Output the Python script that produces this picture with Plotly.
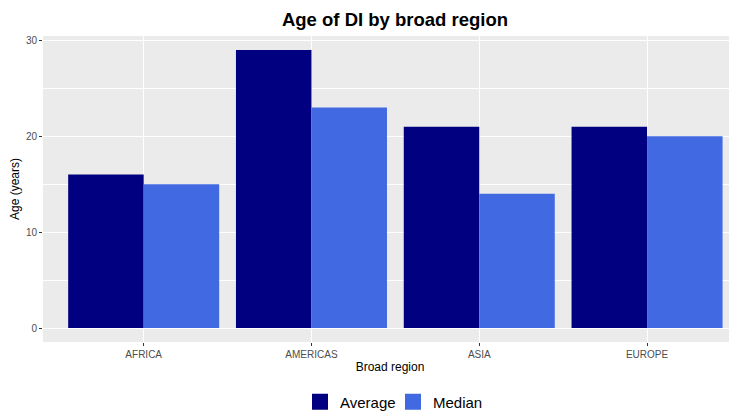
import plotly.graph_objects as go

regions = ["AFRICA", "AMERICAS", "ASIA", "EUROPE"]
average = [16, 29, 21, 21]
median = [15, 23, 14, 20]
y_ticks = [0, 10, 20, 30]

FONT = "Liberation Sans, Arial, sans-serif"
NAVY = "#000080"
ROYAL = "#4169E1"

# page body has an 8px margin; lay out in figure pixels = reference pixels - 8
OFF = 8
W, H = 737 - OFF, 413 - OFF
L, R, T, B = 43 - OFF, 737 - OFF, 36 - OFF, 342 - OFF

fig = go.Figure()
fig.add_trace(go.Bar(x=regions, y=average, name="Average", showlegend=False,
                     marker=dict(color=NAVY, line=dict(width=0))))
fig.add_trace(go.Bar(x=regions, y=median, name="Median", showlegend=False,
                     marker=dict(color=ROYAL, line=dict(width=0))))
# legend keys (larger squares like ggplot), each in its own legend for exact spacing
for nm, col, lg in [("Average", NAVY, "legend"), ("Median", ROYAL, "legend2")]:
    fig.add_trace(go.Scatter(x=[None], y=[None], mode="markers", name=nm, legend=lg,
                             marker=dict(symbol="square", size=19, color=col)))

D = 13  # legend left edge to key square left (approx)
leg_common = dict(orientation="h", xanchor="left", y=1 - (402 - OFF) / H, yanchor="middle",
                  font=dict(size=15, color="black"), itemwidth=30,
                  bgcolor="rgba(0,0,0,0)")

fig.update_layout(
    width=W, height=H,
    margin=dict(l=0, r=0, t=0, b=0, autoexpand=False),
    paper_bgcolor="white",
    plot_bgcolor="#EBEBEB",
    barmode="group",
    bargap=0.1,
    bargroupgap=0,
    font=dict(family=FONT, color="#000000"),
    title=dict(text="<b>Age of DI by broad region</b>", x=(395 - OFF) / W, xanchor="center",
               y=1 - (20 - OFF) / H, yanchor="middle", font=dict(size=18.5, color="black", family=FONT)),
    legend=dict(x=(313 - OFF - D) / W, **leg_common),
    legend2=dict(x=(406 - OFF - D) / W, **leg_common),
    xaxis=dict(
        domain=[L / W, R / W],
        range=[-0.6, 3.536],
        automargin=False,
        showgrid=True, gridcolor="white", gridwidth=1.1,
        ticks="outside", ticklen=3, tickcolor="#333333", tickwidth=1,
        tickfont=dict(size=10, color="#4D4D4D"),
        title=dict(text="Broad region", font=dict(size=12, color="black"), standoff=3),
        zeroline=False, showline=False,
    ),
    yaxis=dict(
        domain=[1 - B / H, 1 - T / H],
        range=[-1.45, 30.45],
        automargin=False,
        tickvals=y_ticks,
        showgrid=True, gridcolor="white", gridwidth=1.1,
        minor=dict(tickvals=[5, 15, 25], showgrid=True, gridcolor="white", gridwidth=0.5),
        ticks="outside", ticklen=3, tickcolor="#333333", tickwidth=1,
        tickfont=dict(size=10, color="#4D4D4D"),
        title=dict(text="Age (years)", font=dict(size=12, color="black"), standoff=5),
        zeroline=False, showline=False,
    ),
)

fig.write_html("out.html")
